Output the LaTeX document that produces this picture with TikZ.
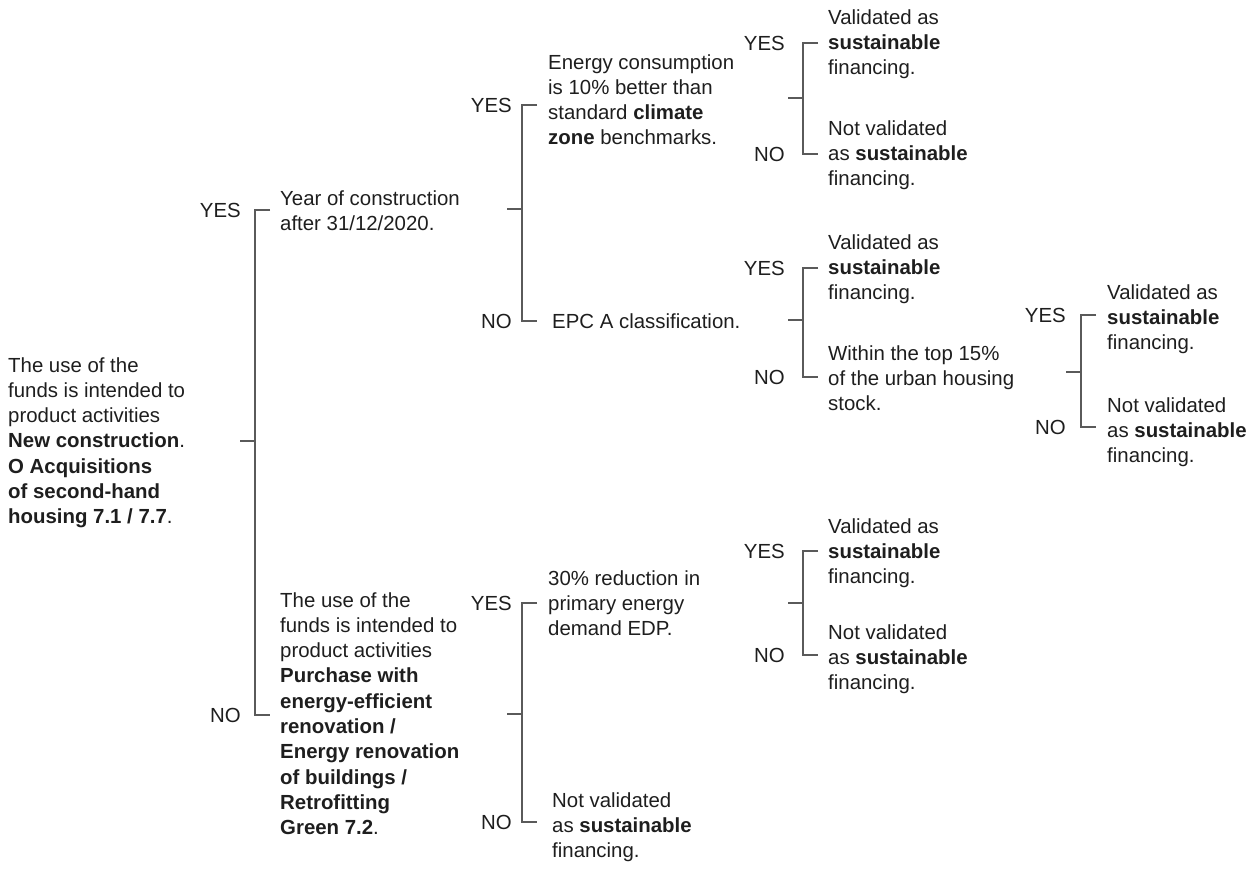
\documentclass[tikz,border=0pt]{standalone}
\usepackage{fontspec}
\setmainfont{Liberation Sans}
\definecolor{ink}{HTML}{1E1E1E}
\definecolor{rule}{HTML}{5A5A5A}
\tikzset{
  % multi-line texts are placed by the baseline of their last line
  txt/.style={anchor=base west, inner sep=0pt, align=left, text=ink,
    font=\fontsize{20.4}{25.3}\selectfont},
  lab/.style={anchor=base east, inner sep=0pt, text=ink,
    font=\fontsize{20.4}{25.3}\selectfont},
  brk/.style={draw=rule, line width=1.3pt},
}
\begin{document}
\begin{tikzpicture}[x=1pt,y=-1pt]
\useasboundingbox (0,0) rectangle (1249,868);

% ---- statements -------------------------------------------------------
\node[txt] (root) at (8,523.8) {The use of the\\funds is intended to\\product activities\\\textbf{New construction}.\\\textbf{O Acquisitions}\\\textbf{of second-hand}\\\textbf{housing 7.1 / 7.7}.};

\node[txt] (year) at (280,230.3) {Year of construction\\after 31/12/2020.};
\node[txt] (purch) at (280,834.7) {The use of the\\funds is intended to\\product activities\\\textbf{Purchase with}\\\textbf{energy-efficient}\\\textbf{renovation /}\\\textbf{Energy renovation}\\\textbf{of buildings /}\\\textbf{Retrofitting}\\\textbf{Green 7.2}.};

\node[txt] (energy) at (548,144.9) {Energy consumption\\is 10\% better than\\standard \textbf{climate}\\\textbf{zone} benchmarks.};
\node[txt] (epc) at (552,328) {EPC A classification.};
\node[txt] (redu) at (548,635.6) {30\% reduction in\\primary energy\\demand EDP.};
\node[txt] (notval) at (552,857.6) {Not validated\\as \textbf{sustainable}\\financing.};

\node[txt] (ayes) at (828,74.6) {Validated as\\\textbf{sustainable}\\financing.};
\node[txt] (ano) at (828,185.6) {Not validated\\as \textbf{sustainable}\\financing.};
\node[txt] (byes) at (828,299.6) {Validated as\\\textbf{sustainable}\\financing.};
\node[txt] (within) at (828,410.6) {Within the top 15\%\\of the urban housing\\stock.};
\node[txt] (cyes) at (828,583.6) {Validated as\\\textbf{sustainable}\\financing.};
\node[txt] (cno) at (828,689.6) {Not validated\\as \textbf{sustainable}\\financing.};

\node[txt] (dyes) at (1107,349.6) {Validated as\\\textbf{sustainable}\\financing.};
\node[txt] (dno) at (1107,462.6) {Not validated\\as \textbf{sustainable}\\financing.};

% ---- bracket corners: top, middle, bottom ---------------------------
\coordinate (rT) at (255,210); \coordinate (rM) at (255,441); \coordinate (rB) at (255,715);
\coordinate (yT) at (522,105); \coordinate (yM) at (522,209); \coordinate (yB) at (522,321);
\coordinate (pT) at (522,603); \coordinate (pM) at (522,714); \coordinate (pB) at (522,822);
\coordinate (aT) at (803,43);  \coordinate (aM) at (803,98);  \coordinate (aB) at (803,154);
\coordinate (bT) at (803,268); \coordinate (bM) at (803,320); \coordinate (bB) at (803,377);
\coordinate (cT) at (803,551); \coordinate (cM) at (803,603); \coordinate (cB) at (803,655);
\coordinate (dT) at (1081,315); \coordinate (dM) at (1081,372); \coordinate (dB) at (1081,427);

% ---- brackets -------------------------------------------------------
\foreach \b in {r,y,p,a,b,c,d}{
  \draw[brk] ([xshift=15pt]\b T) -- (\b T) -- (\b B) -- ([xshift=15pt]\b B);
  \draw[brk] ([xshift=-15pt]\b M) -- (\b M);
}

% ---- YES / NO labels ------------------------------------------------
\node[lab] (rY) at ([xshift=-14pt,yshift=-7pt]rT) {YES};
\node[lab] (rN) at ([xshift=-14pt,yshift=-7pt]rB) {NO};
\node[lab] (yY) at ([xshift=-10pt,yshift=-7pt]yT) {YES};
\node[lab] (yN) at ([xshift=-10pt,yshift=-7pt]yB) {NO};
\node[lab] (pY) at ([xshift=-10pt,yshift=-7pt]pT) {YES};
\node[lab] (pN) at ([xshift=-10pt,yshift=-7pt]pB) {NO};
\node[lab] (aY) at ([xshift=-18pt,yshift=-7pt]aT) {YES};
\node[lab] (aN) at ([xshift=-18pt,yshift=-7pt]aB) {NO};
\node[lab] (bY) at ([xshift=-18pt,yshift=-7pt]bT) {YES};
\node[lab] (bN) at ([xshift=-18pt,yshift=-7pt]bB) {NO};
\node[lab] (cY) at ([xshift=-18pt,yshift=-7pt]cT) {YES};
\node[lab] (cN) at ([xshift=-18pt,yshift=-7pt]cB) {NO};
\node[lab] (dY) at ([xshift=-15pt,yshift=-7pt]dT) {YES};
\node[lab] (dN) at ([xshift=-15pt,yshift=-7pt]dB) {NO};
\end{tikzpicture}
\end{document}
